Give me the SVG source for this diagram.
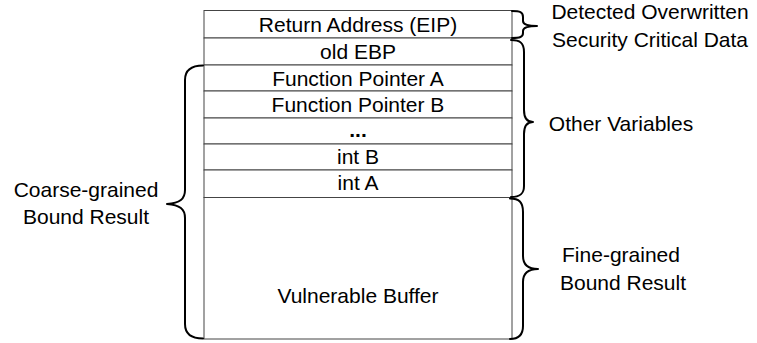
<svg xmlns="http://www.w3.org/2000/svg" width="757" height="343" viewBox="0 0 757 343">
<style>
.cell{fill:#fff;stroke:#444;stroke-width:1}
.t{font-family:"Liberation Sans",Arial,sans-serif;font-size:21px;fill:#000;text-anchor:middle}
.brace{fill:none;stroke:#000;stroke-width:2;stroke-linecap:round;stroke-linejoin:round}
</style>
<rect x="0" y="0" width="757" height="343" fill="#fff"/>
<g id="stack">
<g id="n-eip"><rect class="cell" x="204" y="10.5" width="308" height="27.5"/><text class="t" x="358" y="32">Return Address (EIP)</text></g>
<g id="n-ebp"><rect class="cell" x="204" y="38" width="308" height="27"/><text class="t" x="358" y="59">old EBP</text></g>
<g id="n-fpa"><rect class="cell" x="204" y="65" width="308" height="26"/><text class="t" x="358" y="86">Function Pointer A</text></g>
<g id="n-fpb"><rect class="cell" x="204" y="91" width="308" height="27"/><text class="t" x="358" y="112">Function Pointer B</text></g>
<g id="n-dots"><rect class="cell" x="204" y="118" width="308" height="26"/><text class="t" x="358" y="137" font-weight="bold">...</text></g>
<g id="n-intb"><rect class="cell" x="204" y="144" width="308" height="26"/><text class="t" x="358" y="164">int B</text></g>
<g id="n-inta"><rect class="cell" x="204" y="170" width="308" height="27.5"/><text class="t" x="358" y="190">int A</text></g>
<g id="n-buf"><rect class="cell" x="204" y="197.5" width="308" height="141.5"/><text class="t" x="358" y="303">Vulnerable Buffer</text></g>
</g>
<g id="connectors">
<path class="brace" d="M512 11 C520 11 523 12 523 17 L523 21 C523 25 528 26 537 26 C528 26 523 27 523 31 L523 33 C523 37 520 38 512 38"/>
<path class="brace" d="M511 40 C520 40 524 43 524 52 L524 110 C524 118 527 122 533 122 C527 122 524 126 524 134 L524 186 C524 194 520 197 511 197"/>
<path class="brace" d="M510 198.5 C519 198.5 523 202 523 212 L523 256 C523 265 528 269 538 269 C528 269 523 273 523 282 L523 326 C523 335 519 339 510 339"/>
<path class="brace" d="M203 65.5 C192 65.5 185 69 185 80 L185 190 C185 199 180 203 167 204 C180 205 185 209 185 218 L185 324 C185 335 192 338.5 203 338.5"/>
</g>
<g id="labels">
<text class="t" x="650" y="19">Detected Overwritten</text>
<text class="t" x="650" y="47">Security Critical Data</text>
<text class="t" x="621" y="131">Other Variables</text>
<text class="t" x="621" y="262">Fine-grained</text>
<text class="t" x="623" y="290">Bound Result</text>
<text class="t" x="86" y="197">Coarse-grained</text>
<text class="t" x="86" y="224">Bound Result</text>
</g>
</svg>
